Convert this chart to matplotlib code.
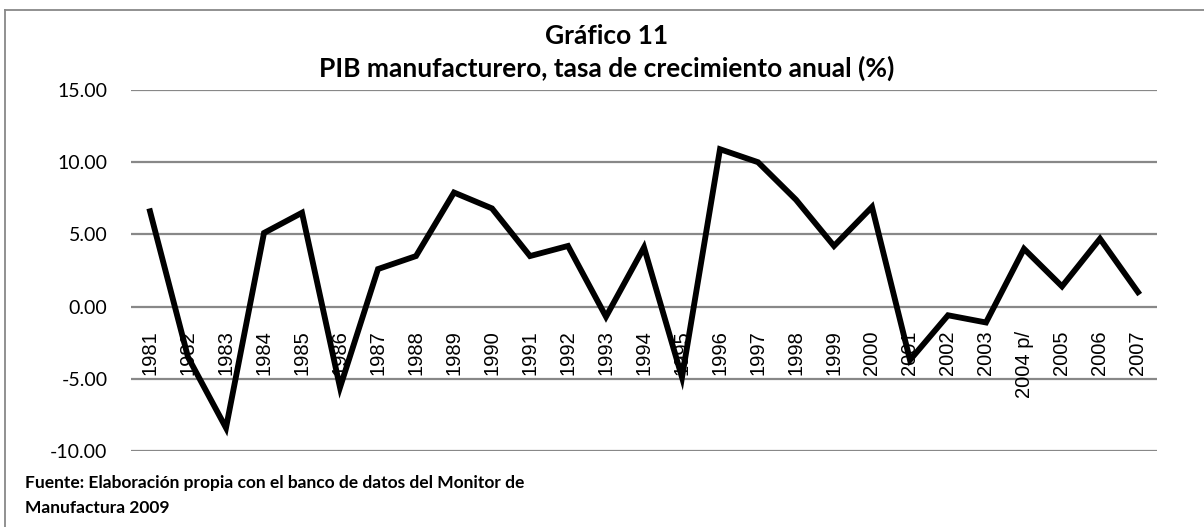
import matplotlib.pyplot as plt
from matplotlib.lines import Line2D

years = ['1981', '1982', '1983', '1984', '1985', '1986', '1987', '1988', '1989',
         '1990', '1991', '1992', '1993', '1994', '1995', '1996', '1997', '1998',
         '1999', '2000', '2001', '2002', '2003', '2004 p/', '2005', '2006', '2007']
growth = [6.6, -3.5, -8.4, 5.1, 6.5, -5.6, 2.6, 3.5, 7.9,
          6.8, 3.5, 4.2, -0.7, 4.1, -4.9, 10.9, 10.0, 7.4,
          4.2, 6.9, -3.7, -0.6, -1.1, 4.0, 1.4, 4.7, 1.0]
yticks = [-10, -5, 0, 5, 10, 15]

W, H = 1204, 527
fig = plt.figure(figsize=(W / 100, H / 100), dpi=100)
ax = fig.add_axes([131 / W, 1 - 451 / H, (1157 - 131) / W, (451 - 90) / H])

x = list(range(len(years)))
ax.set_ylim(-10, 15)
ax.set_xlim(-0.5, len(years) - 0.5)
ax.set_yticks(yticks)
ax.set_yticklabels([f'{v:.2f}' for v in yticks], fontsize=14, family='Lato')
for v in yticks:
    ax.axhline(v, color='#888888', lw=1.6, zorder=1)
ax.plot(x, growth, color='black', lw=4.2, solid_joinstyle='miter', zorder=3)

ax.set_xticks([])
for i, lab in enumerate(years):
    ax.text(i, -1.65, lab, rotation=90, ha='center', va='top', fontsize=14.5,
            family='Liberation Sans', zorder=2)

ax.tick_params(axis='y', length=0, pad=17)
for s in ax.spines.values():
    s.set_visible(False)

fig.text(607 / W, 1 - 36 / H, 'Gráfico 11', ha='center', va='center',
         fontsize=19, fontweight='bold', family='Lato')
fig.text(607 / W, 1 - 68 / H, 'PIB manufacturero, tasa de crecimiento anual (%)',
         ha='center', va='center', fontsize=19, fontweight='bold', family='Lato')
fig.text(25 / W, 1 - 483 / H, 'Fuente: Elaboración propia con el banco de datos del Monitor de',
         ha='left', va='center', fontsize=12.5, fontweight='bold', family='Lato')
fig.text(25 / W, 1 - 508 / H, 'Manufactura 2009',
         ha='left', va='center', fontsize=12.5, fontweight='bold', family='Lato')

fig.add_artist(Line2D([4.5 / W, 4.5 / W], [0, 1 - 9.5 / H], color='#888888', lw=1.3))
fig.add_artist(Line2D([4.5 / W, 1], [1 - 9.5 / H, 1 - 9.5 / H], color='#888888', lw=1.3))

fig.savefig('out.png', dpi=100)
